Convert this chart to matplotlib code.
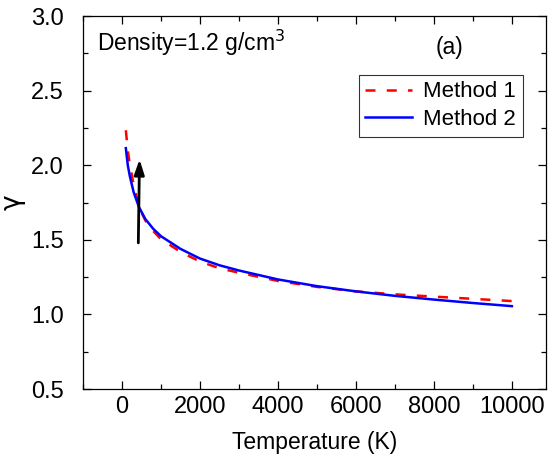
import numpy as np
import matplotlib.pyplot as plt
from matplotlib.ticker import MultipleLocator

plt.rcParams['font.family'] = ['Liberation Sans', 'DejaVu Sans']

# Method 1 (red dashed)
T1 = [100, 150, 200, 300, 436, 600, 800, 1000, 1500, 2000, 2500, 3000,
      4000, 5000, 6000, 7000, 8000, 9000, 10000]
g1 = [2.235, 2.10, 2.01, 1.87, 1.72, 1.63, 1.56, 1.505, 1.42, 1.355, 1.31, 1.28,
      1.225, 1.185, 1.155, 1.135, 1.12, 1.105, 1.09]

# Method 2 (blue solid)
T2 = [100, 150, 200, 300, 436, 600, 800, 1000, 1500, 2000, 2500, 3000,
      4000, 5000, 6000, 7000, 8000, 9000, 10000]
g2 = [2.115, 2.00, 1.93, 1.82, 1.72, 1.64, 1.575, 1.525, 1.44, 1.375, 1.33, 1.295,
      1.235, 1.19, 1.155, 1.125, 1.10, 1.077, 1.056]

fig = plt.figure(figsize=(5.53, 4.61), dpi=100)
ax = fig.add_axes([0.150, 0.156, 0.837, 0.809])

ax.plot(T1, g1, color='red', lw=1.8, linestyle=(0, (4, 4.5)), label='Method 1')
ax.plot(T2, g2, color='blue', lw=1.8, label='Method 2')

ax.annotate('', xy=(450, 2.04), xytext=(420, 1.48),
            arrowprops=dict(arrowstyle='-|>,head_length=0.9,head_width=0.3',
                            color='black', lw=2, shrinkA=0, shrinkB=0))

ax.set_xlim(-1000, 10870)
ax.set_ylim(0.5, 3.0)
ax.xaxis.set_major_locator(MultipleLocator(2000))
ax.xaxis.set_minor_locator(MultipleLocator(1000))
ax.yaxis.set_major_locator(MultipleLocator(0.5))
ax.yaxis.set_minor_locator(MultipleLocator(0.25))
ax.tick_params(which='both', direction='in', top=True, right=True, width=0.9)
ax.tick_params(which='major', length=6, labelsize=17)
ax.tick_params(axis='x', which='major', pad=5)
ax.tick_params(axis='y', which='major', pad=14)
ax.tick_params(which='minor', length=3.5)
for s in ax.spines.values():
    s.set_linewidth(0.9)

ax.set_xlabel('Temperature (K)', fontsize=16.5, labelpad=9)
ax.set_ylabel('γ', fontsize=19, labelpad=4, family=['DejaVu Sans'])

ax.text(0.03, 0.928, 'Density=1.2 g/cm$^3$', transform=ax.transAxes,
        fontsize=16.5, va='center', ha='left')
ax.text(0.793, 0.917, '(a)', transform=ax.transAxes, fontsize=16.5,
        va='center', ha='center')

leg = ax.legend(loc='upper right', bbox_to_anchor=(0.950, 0.843), fontsize=16,
                frameon=True, fancybox=False, handlelength=2.1,
                borderpad=0.3, labelspacing=0.3, handletextpad=0.5,
                borderaxespad=0)
leg.get_frame().set_edgecolor('black')
leg.get_frame().set_linewidth(0.8)

fig.savefig('out.png', dpi=100)
